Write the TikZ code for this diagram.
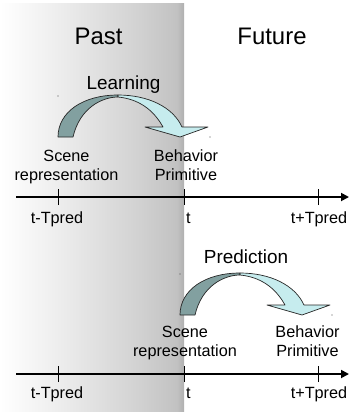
\documentclass[tikz,border=0pt]{standalone}
\usepackage{fontspec}
\setmainfont{Liberation Sans}
\usetikzlibrary{arrows.meta}
\pgfdeclarehorizontalshading{pastshade}{100bp}{
  color(0bp)=(white);
  color(25bp)=(white);
  color(41bp)=(black!7);
  color(63bp)=(black!18);
  color(73bp)=(black!24);
  color(75bp)=(black!31);
  color(100bp)=(black!31)}
\definecolor{arrdark}{HTML}{82A0A0}
\definecolor{arrlight}{HTML}{C6ECEE}
\tikzset{
  big/.style={font=\fontsize{24}{28}\selectfont, anchor=base, inner sep=0pt},
  mid/.style={font=\fontsize{19}{22}\selectfont, anchor=base, inner sep=0pt},
  lbl/.style={font=\fontsize{16.3}{18.5}\selectfont, anchor=base, inner sep=0pt, align=center},
  axis/.style={line width=1.8pt, -{Triangle[length=8bp,width=8bp]}},
  tick/.style={line width=0.9pt},
  arrline/.style={draw=black!85, line width=0.7pt, line join=round},
  pics/curvarrow/.style={code={
    \fill[arrline, fill=arrdark] (0,0) .. controls (0,-25) and (25,-42) .. (60,-42)
      -- (60,-40) .. controls (45,-40) and (22,-30) .. (15,0) -- cycle;
    \fill[arrline, fill=arrlight] (60,-42) .. controls (90,-42) and (115,-30) .. (124,-10)
      -- (150,-10) -- (122,0) -- (87,-10) -- (105,-10)
      .. controls (95,-28) and (80,-38) .. (60,-40) -- cycle;
    \fill[black!70] (0,-41) circle (0.6);
    \fill[black!70] (152,0) circle (0.6);
  }}
}
\begin{document}
\begin{tikzpicture}[x=1bp,y=-1bp]
\useasboundingbox (0,0) rectangle (351,412);
\shade[shading=pastshade] (0,3) rectangle (184,412);

\node[big] (past) at (98.5,44) {Past};
\node[big] (future) at (272,44) {Future};

% upper timeline
\coordinate (a1s) at (16,197);
\coordinate (a1e) at (349,197);
\draw[axis] (a1s) -- (a1e);
\foreach \n/\x in {m/58,z/184,p/318}{
  \coordinate (u\n) at (\x,197);
  \draw[tick] ([yshift=-8bp]u\n) -- ([yshift=8bp]u\n);
}
\node[lbl] (l1m) at (57,223) {t-Tpred};
\node[lbl] (l1z) at (188.5,223) {t};
\node[lbl] (l1p) at (319,223) {t+Tpred};
\pic at (58,137) {curvarrow};
\node[mid] (learn) at (123.5,89) {Learning};
\node[lbl] (scene1) at (66.5,180) {Scene\\representation};
\node[lbl] (beh1) at (186,180) {Behavior\\Primitive};

% lower timeline
\coordinate (a2s) at (16,374);
\coordinate (a2e) at (349,374);
\draw[axis] (a2s) -- (a2e);
\foreach \n/\x in {m/58,z/184,p/318}{
  \coordinate (w\n) at (\x,374);
  \draw[tick] ([yshift=-8bp]w\n) -- ([yshift=8bp]w\n);
}
\node[lbl] (l2m) at (57,398) {t-Tpred};
\node[lbl] (l2z) at (188.5,398) {t};
\node[lbl] (l2p) at (319,398) {t+Tpred};
\pic at (180,315) {curvarrow};
\node[mid] (pred) at (246,263) {Prediction};
\node[lbl] (scene2) at (185,356) {Scene\\representation};
\node[lbl] (beh2) at (307.5,356) {Behavior\\Primitive};
\end{tikzpicture}
\end{document}
